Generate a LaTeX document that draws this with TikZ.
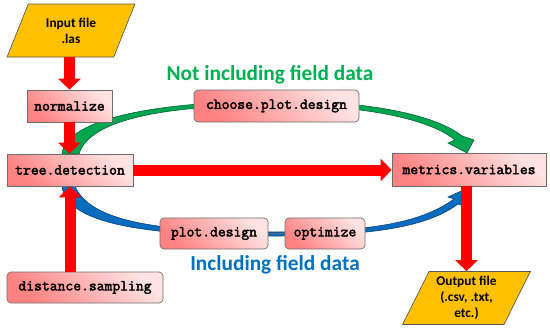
\documentclass[tikz,border=0pt]{standalone}
\usepackage{fontspec}
\setmonofont[AutoFakeBold=2.5]{Latin Modern Mono}
\newfontfamily\carlito{Carlito}
\usetikzlibrary{shapes.geometric,arrows.meta}
\definecolor{ioyellow}{HTML}{FFC000}
\definecolor{boxdark}{HTML}{FF8282}
\definecolor{boxlight}{HTML}{FFE2E2}
\definecolor{greenarc}{HTML}{00A550}
\definecolor{bluearc}{HTML}{0A6CBF}
\definecolor{labgreen}{HTML}{00B050}
\definecolor{labblue}{HTML}{0070C0}

\begin{document}
\begin{tikzpicture}[x=0.75pt,y=-0.75pt,
    fn/.style={draw=gray!85!black, line width=0.5pt, left color=boxdark, right color=boxlight, shading angle=135,
      font=\ttfamily\bfseries\fontsize{11.4}{13}\selectfont, inner sep=0pt, minimum height=24pt},
    fnround/.style={fn, rounded corners=3pt},
    iofile/.style={trapezium, trapezium left angle=64, trapezium right angle=116, trapezium stretches=true,
      draw=gray!70!black, line width=0.5pt, fill=ioyellow, font=\carlito\bfseries\fontsize{10}{12}\selectfont,
      align=center, minimum width=96pt, minimum height=39.75pt, inner sep=0pt},
    flow/.style={draw=red, line width=8.25pt, -{Triangle[length=8.25pt,width=16.5pt]}},
    lab/.style={font=\carlito\bfseries\fontsize{16}{19}\selectfont}
]
    \useasboundingbox (0,0) rectangle (550,329);
    % --- CURVED ARROWS (BEHIND) ---
    \fill[greenarc, draw=greenarc!55!black, line width=0.4pt]
      (62,154) .. controls (66,118) and (160,101) .. (280,101)
      .. controls (380,101) and (440,118) .. (462,136)
      -- (474,140) -- (467,153) -- (448,143) -- (455,140)
      .. controls (435,123) and (380,106) .. (280,105)
      .. controls (170,105) and (90,118) .. (79,154) -- cycle;
    \fill[bluearc, draw=bluearc!55!black, line width=0.4pt]
      (62,186) .. controls (66,225) and (150,236) .. (275,236)
      .. controls (380,236) and (430,225) .. (458,204)
      -- (466,207) -- (470,187) -- (448,197) -- (454,199)
      .. controls (425,220) and (380,232) .. (275,232)
      .. controls (160,232) and (90,222) .. (75,186) -- cycle;

    % --- BOXES ---
    \node[iofile] (input) at (71,30.5) {Input file\\.las};
    \node[fn, minimum width=63.75pt] (norm) at (69.5,106) {normalize};
    \node[fn, minimum width=94.5pt] (tree) at (70,170) {tree.detection};
    \node[fn, minimum width=115.5pt, minimum height=24.75pt] (metrics) at (469,169.5) {metrics.variables};
    \node[fnround, minimum width=123.75pt] (choose) at (276.5,106) {choose.plot.design};
    \node[fnround, minimum width=81pt, minimum height=23.25pt] (plotd) at (214,233.5) {plot.design};
    \node[fnround, minimum width=60pt, minimum height=23.25pt] (optim) at (325,233.5) {optimize};
    \node[fnround, minimum width=117pt, minimum height=23.25pt] (dist) at (85,287.5) {distance.sampling};
    \node[iofile] (output) at (466.5,298) {Output file\\(.csv, .txt,\\etc.)};

    \node[lab, text=labgreen] (nofield) at (270,75) {Not including field data};
    \node[lab, text=labblue] (withfield) at (275,265) {Including field data};

    % --- CONNECTORS ---
    \draw[gray!80!black, line width=0.5pt] (plotd) -- (optim);
    \draw[flow] (input.south -| norm.north) -- (norm.north);
    \draw[flow] (norm.south) -- (norm.south |- tree.north);
    \draw[flow] (dist.north -| tree.south) -- (tree.south);
    \draw[flow] (tree.east) -- (metrics.west |- tree.east);
    \draw[flow] (metrics.south -| output.north) -- (output.north);
\end{tikzpicture}
\end{document}
